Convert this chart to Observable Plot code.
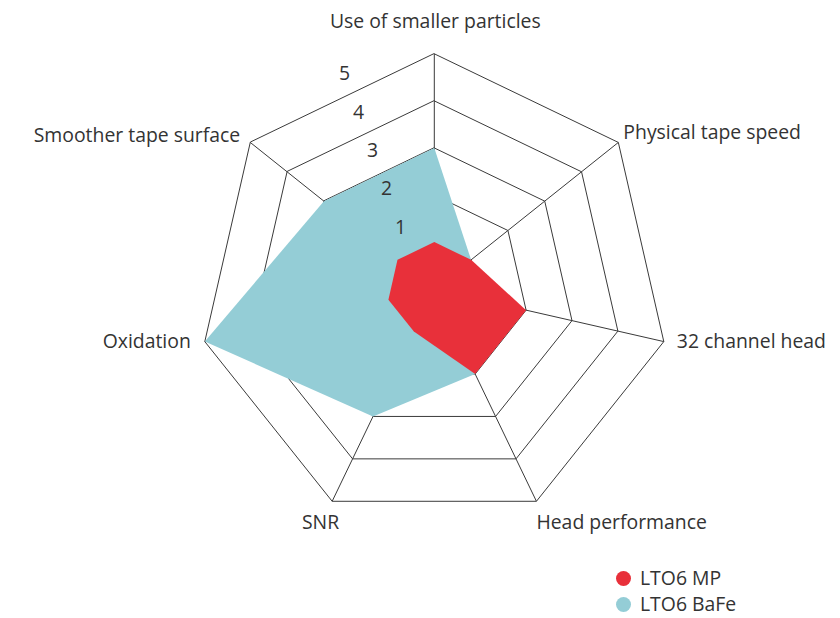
<!DOCTYPE html>
<html><head><meta charset="utf-8">
<script src="https://cdn.jsdelivr.net/npm/d3@7"></script>
<script src="https://cdn.jsdelivr.net/npm/@observablehq/plot@0.6"></script>
<style>
body{margin:0;background:#fff;font-family:"Open Sans",sans-serif;color:#333;}
#wrap{position:relative;width:840px;height:618px;}
#legend{position:absolute;left:616px;top:568px;font-size:19.4px;line-height:20px;}
#legend .row{display:flex;align-items:center;height:20px;margin-bottom:6px;}
#legend .sw{width:15px;height:15px;border-radius:50%;margin-right:9px;}
</style></head><body><div id="wrap"><div id="chart"></div><div id="legend"></div></div>
<script>
// ---- data ----
const axes = ["Use of smaller particles","Physical tape speed","32 channel head","Head performance","SNR","Oxidation","Smoother tape surface"];
const lto6MP   = [1, 1, 2, 2, 1, 1, 1];
const lto6BaFe = [3, 1, 1, 2, 3, 5, 3];
const levels = [1, 2, 3, 4, 5];
const seriesNames = ["LTO6 MP", "LTO6 BaFe"];
const seriesColors = ["#e8303a", "#94cdd6"];

// ---- layout ----
const W = 840, H = 560, unit = 47.08, cx = 433.8, cy = 288.7;
const FS = 19.4;
const n = axes.length;
const ang = i => i * 2 * Math.PI / n;
const px = (i, r) => r * Math.sin(ang(i));
const py = (i, r) => r * Math.cos(ang(i));
// label placement (anchor, pixel offsets) per axis
const labelStyle = [
  {anchor:"middle", dx:1,   dy:-32},
  {anchor:"start",  dx:5,   dy:-10},
  {anchor:"start",  dx:13,  dy:0},
  {anchor:"start",  dx:0,   dy:21},
  {anchor:"end",    dx:7,   dy:21},
  {anchor:"end",    dx:-14, dy:0},
  {anchor:"end",    dx:-10, dy:-7}
];
const maxLevel = d3.max(levels);

const rings = levels.flatMap(k => axes.map((a, i) => ({level:k, x:px(i,k), y:py(i,k)})));
const spokes = axes.map((a, i) => ({x1:0, y1:0, x2:px(i,maxLevel), y2:py(i,maxLevel)}));
const poly = vals => vals.map((v, i) => ({x:px(i,v), y:py(i,v)}));
const axisLabels = axes.map((a, i) => ({
  text:a, anchor:labelStyle[i].anchor,
  x: px(i,maxLevel) + labelStyle[i].dx/unit,
  y: py(i,maxLevel) - labelStyle[i].dy/unit
}));
// level numbers along the upper-left sector
const levelLabels = levels.map(k => ({text:String(k), x:-0.2974*k - 19.8/unit, y:0.8135*k + 23.5/unit}));

const textMarks = ["start","middle","end"].map(an =>
  Plot.text(axisLabels.filter(d => d.anchor === an), {x:"x", y:"y", text:"text", textAnchor:an, fontSize:FS, fill:"#333", fontFamily:"Open Sans"}));

const chart = Plot.plot({
  width: W, height: H, margin: 0,
  x: {domain: [-cx/unit, (W-cx)/unit], axis: null},
  y: {domain: [(cy-H)/unit, cy/unit], axis: null},
  style: {background: "#fff"},
  marks: [
    Plot.link(spokes, {x1:"x1", y1:"y1", x2:"x2", y2:"y2", stroke:"#3a3a3a", strokeWidth:1}),
    Plot.line(rings, {x:"x", y:"y", z:"level", curve:"linear-closed", stroke:"#3a3a3a", strokeWidth:1}),
    Plot.line(poly(lto6BaFe), {x:"x", y:"y", curve:"linear-closed", fill:seriesColors[1], stroke:"none"}),
    Plot.line(poly(lto6MP), {x:"x", y:"y", curve:"linear-closed", fill:seriesColors[0], stroke:"none"}),
    ...textMarks,
    Plot.text(levelLabels, {x:"x", y:"y", text:"text", fontSize:FS, fill:"#333", fontFamily:"Open Sans"})
  ]
});
document.getElementById("chart").appendChild(chart);

const lg = document.getElementById("legend");
seriesNames.forEach((s, i) => {
  const row = document.createElement("div"); row.className = "row";
  const sw = document.createElement("span"); sw.className = "sw"; sw.style.background = seriesColors[i];
  const t = document.createElement("span"); t.textContent = s;
  row.appendChild(sw); row.appendChild(t); lg.appendChild(row);
});
</script>
</body></html>
